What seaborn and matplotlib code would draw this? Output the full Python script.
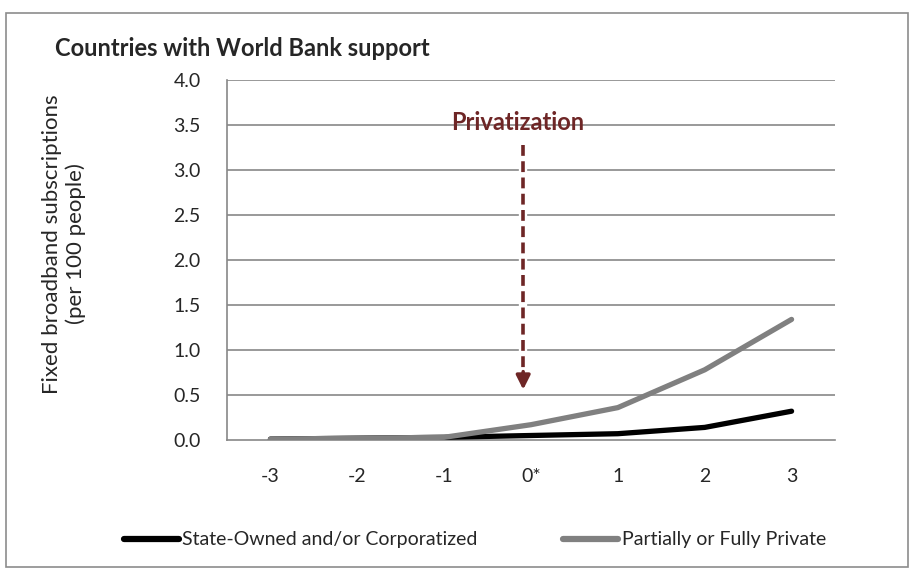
import matplotlib
matplotlib.use("Agg")
import matplotlib.pyplot as plt
from matplotlib.patches import Rectangle
import seaborn as sns
import pandas as pd

categories = ["-3", "-2", "-1", "0*", "1", "2", "3"]
state_owned = [0.01, 0.02, 0.03, 0.05, 0.07, 0.14, 0.32]
private = [0.01, 0.02, 0.03, 0.17, 0.36, 0.78, 1.34]
series_names = ["State-Owned and/or Corporatized", "Partially or Fully Private"]
y_ticks = [0.0, 0.5, 1.0, 1.5, 2.0, 2.5, 3.0, 3.5, 4.0]

sns.set_theme(style="white")
plt.rcParams["font.family"] = ["Lato", "DejaVu Sans"]

rows = []
for name, vals in zip(series_names, [state_owned, private]):
    for i, (c, v) in enumerate(zip(categories, vals)):
        rows.append({"pos": i, "cat": c, "value": v, "series": name})
df = pd.DataFrame(rows)

fig = plt.figure(figsize=(9.1, 5.69), dpi=100)
ax = fig.add_axes([227 / 910, 1 - 440 / 569, 608 / 910, 360 / 569])

grid_c = "#878787"
for yv in y_ticks[1:]:
    ax.axhline(yv, color=grid_c, lw=1.2, zorder=0)

sns.lineplot(data=df, x="pos", y="value", hue="series",
             palette={series_names[0]: "#000000", series_names[1]: "#808080"},
             lw=3.8, ax=ax, legend=False, zorder=3, sort=False)
for ln in ax.lines[-2:]:
    ln.set_solid_capstyle("round")
    ln.set_solid_joinstyle("round")

ax.set_xlim(-0.5, len(categories) - 0.5)
ax.set_ylim(0, 4.0)
ax.set_yticks(y_ticks)
ax.set_yticklabels([f"{t:.1f}" for t in y_ticks], fontsize=14)
ax.set_xticks([i - 0.5 for i in range(len(categories) + 1)])
ax.set_xticklabels([])
ax.set_xticks(range(len(categories)), minor=True)
ax.set_xticklabels(categories, minor=True, fontsize=14)
ax.tick_params(axis="x", which="major", length=6, width=1.2, color=grid_c, direction="out")
ax.tick_params(axis="x", which="minor", length=0, pad=20)
ax.tick_params(axis="y", length=7, width=1.2, color=grid_c, direction="out", pad=12)
ax.set_xlabel("")
ax.set_ylabel("")
for s in ["top", "right"]:
    ax.spines[s].set_visible(False)
for s in ["left", "bottom"]:
    ax.spines[s].set_color(grid_c)
    ax.spines[s].set_linewidth(1.2)

# privatization arrow
arrow_c = "#6E2626"
ax.plot([2.91, 2.91], [3.28, 0.75], color="white", lw=6, zorder=4, solid_capstyle="butt")
ax.plot([2.91, 2.91], [3.28, 0.72], color=arrow_c, lw=2.6, ls=(0, (3, 1.5)), zorder=5)
ax.annotate("", xy=(2.91, 0.56), xytext=(2.91, 0.76),
            arrowprops=dict(arrowstyle="-|>,head_length=0.7,head_width=0.35",
                            color=arrow_c, lw=2.5, shrinkA=0, shrinkB=0), zorder=6)
ax.text(2.85, 3.53, "Privatization", color=arrow_c, fontsize=17,
        fontweight="bold", ha="center", va="center", zorder=6)

fig.text(55 / 910, 1 - 48 / 569, "Countries with World Bank support",
         fontsize=17, fontweight="bold", ha="left", va="center")
fig.text(64 / 910, 1 - 244 / 569, "Fixed broadband subscriptions\n(per 100 people)",
         fontsize=16, rotation=90, ha="center", va="center", linespacing=1.15)

handles = [plt.Line2D([], [], color="#000000", lw=4.5, solid_capstyle="round"),
           plt.Line2D([], [], color="#808080", lw=4.5, solid_capstyle="round")]
fig.legend(handles, series_names, loc="center", bbox_to_anchor=(475 / 910, 1 - 540 / 569),
           ncol=2, frameon=False, fontsize=14, handlelength=2.8, handletextpad=0.2,
           columnspacing=4.4)

fig.patches.append(Rectangle((6 / 910, 2 / 569), 902 / 910, 554 / 569,
                             transform=fig.transFigure, fill=False,
                             edgecolor="#8c8c8c", lw=1.2))

fig.savefig("out.png", dpi=100)
